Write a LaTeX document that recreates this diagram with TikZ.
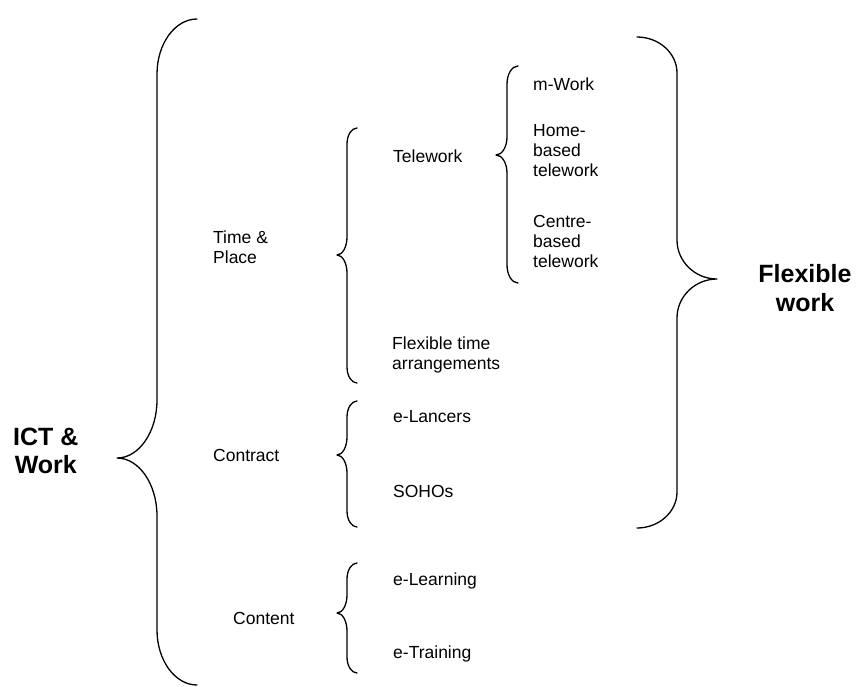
\documentclass[tikz,border=0pt]{standalone}
\usepackage{fontspec}
\setmainfont{Liberation Sans}
\newcommand\mybrace[7]{%
 \draw[bracestyle] ({#1+(#5)},{#2}) .. controls ({#1+0.45*(#5)},{#2}) and ({#1},{#2+0.45*(#6)}) .. ({#1},{#2+(#6)})
  -- ({#1},{#3-(#7)}) .. controls ({#1},{#3-0.45*(#7)}) and ({#1-0.45*(#5)},{#3}) .. ({#1-(#5)},{#3})
  .. controls ({#1-0.45*(#5)},{#3}) and ({#1},{#3+0.45*(#7)}) .. ({#1},{#3+(#7)})
  -- ({#1},{#4-(#6)}) .. controls ({#1},{#4-0.45*(#6)}) and ({#1+0.45*(#5)},{#4}) .. ({#1+(#5)},{#4});}
\tikzset{
  bracestyle/.style={line width=1.3pt, line cap=round, line join=round},
  lbl/.style={inner sep=0pt, anchor=west, align=left, font=\fontsize{17.5}{20}\selectfont},
  big/.style={inner sep=0pt, align=center, font=\fontsize{25}{28.5}\selectfont\bfseries}
}
\begin{document}
\begin{tikzpicture}[x=1pt,y=-1pt]
\useasboundingbox (0,0) rectangle (856,686);
% braces
\mybrace{157}{19}{458}{685}{40}{55}{58}
\mybrace{677}{37}{279}{528}{-40}{36}{39}
\mybrace{347}{128}{255}{383}{10}{16}{18}
\mybrace{507}{66}{155}{283}{11}{18}{18}
\mybrace{347}{401}{455}{527}{10}{16}{18}
\mybrace{347}{563}{613}{673}{10}{16}{18}
% labels
\node[big, anchor=west] (ict) at (13,451) {ICT \&\\Work};
\node[big] (flex) at (805,288) {Flexible\\work};
\node[lbl] (tp) at (213,247) {Time \&\\Place};
\node[lbl] (contract) at (213,455) {Contract};
\node[lbl] (content) at (233,618) {Content};
\node[lbl] (telework) at (393,156) {Telework};
\node[lbl] (flextime) at (392,355) {Flexible time\\arrangements};
\node[lbl] (elancers) at (393,417) {e-Lancers};
\node[lbl] (sohos) at (393,491) {SOHOs};
\node[lbl] (elearning) at (393,581) {e-Learning};
\node[lbl] (etraining) at (393,654) {e-Training};
\node[lbl] (mwork) at (533,84) {m-Work};
\node[lbl] (home) at (533,151) {Home-\\based\\telework};
\node[lbl] (centre) at (533,241) {Centre-\\based\\telework};
\end{tikzpicture}
\end{document}
